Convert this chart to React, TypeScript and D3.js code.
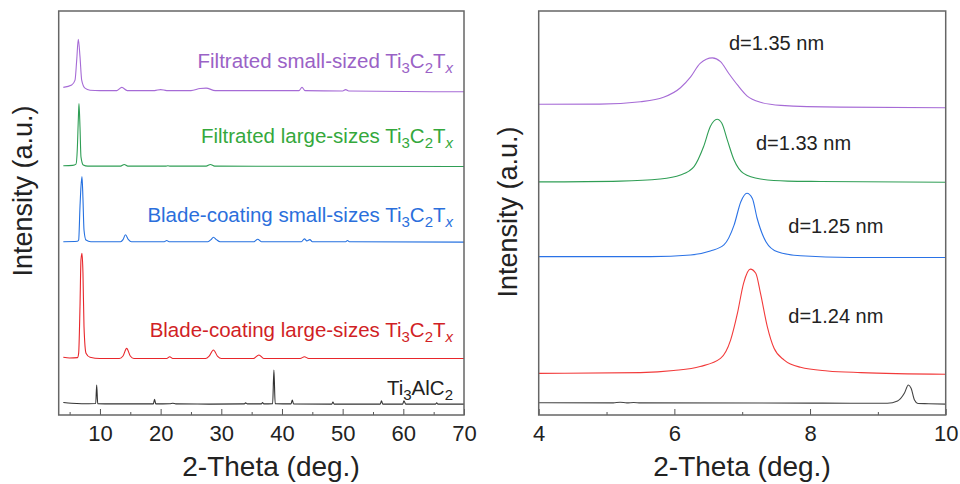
import React, { useEffect, useRef } from 'react';
import * as d3 from 'd3';

type Pt = [number, number];

// left panel: wide scan 2-theta (deg), stacked intensity (a.u.)
const wideTi3AlC2: Pt[] = [
  [3.96, 3.1], [5.3, 2.9], [7, 2.8], [9.3, 2.85], [9.46, 7.4], [9.63, 2.8], [12, 2.75],
  [18.8, 2.75], [19.0, 3.9], [19.2, 2.75], [21.5, 2.8], [22, 2.9], [22.5, 2.75], [28, 2.7],
  [33.8, 2.75], [34.0, 3.0], [34.3, 2.75], [36.6, 2.75], [36.8, 3.1], [37.0, 2.75],
  [38.46, 2.8], [38.67, 11.1], [38.88, 2.8], [41.5, 2.75], [41.7, 3.7], [41.9, 2.75],
  [48.2, 2.7], [48.4, 3.2], [48.6, 2.7], [56.2, 2.7], [56.4, 3.5], [56.6, 2.7],
  [59.9, 2.7], [60.1, 3.5], [60.4, 2.7], [65.3, 2.7], [65.5, 3.0], [65.7, 2.7], [70, 2.7],
];
const wideBladeLarge: Pt[] = [
  [3.96, 14.3], [5, 14.1], [6.3, 14.2], [6.49, 15.3], [6.71, 26.8], [6.87, 38.4], [7.04, 40.0],
  [7.2, 35.1], [7.37, 21.9], [7.7, 15.3], [8.36, 14.3], [10, 14.0], [13.2, 14.0], [13.8, 14.6],
  [14.4, 16.5], [15.0, 14.6], [15.6, 14.0], [21, 14.0], [21.5, 14.4], [22, 14.0], [27.4, 14.0],
  [28.0, 14.6], [28.7, 16.1], [29.4, 14.5], [30, 14.0], [35.3, 14.0], [36.2, 14.85], [37, 14.0],
  [43, 14.0], [43.7, 14.4], [44.4, 14.0], [70, 14.0],
];
const wideBladeSmall: Pt[] = [
  [3.96, 42.9], [6.3, 43.0], [6.49, 43.3], [6.71, 51.6], [6.87, 56.5], [7.04, 59.0], [7.2, 53.5],
  [7.37, 45.8], [7.7, 43.3], [8.5, 42.9], [13.4, 42.9], [13.8, 43.4], [14.2, 44.6], [14.7, 43.4],
  [15.2, 42.9], [20.6, 42.9], [21, 43.2], [21.4, 42.9], [27.8, 42.9], [28.3, 43.4], [28.7, 44.0],
  [29.2, 43.4], [29.8, 42.9], [35.4, 42.9], [36, 43.5], [36.6, 42.9], [43.2, 42.9], [43.7, 43.6],
  [44.1, 43.1], [44.6, 43.4], [45, 42.9], [50.5, 42.9], [50.8, 43.2], [51.1, 42.9], [70, 42.8],
];
const wideFiltLarge: Pt[] = [
  [3.96, 61.7], [5.5, 61.8], [6.05, 62.1], [6.26, 65.6], [6.43, 73.0], [6.54, 77.1], [6.71, 71.3],
  [6.87, 63.9], [7.25, 61.9], [8, 61.6], [13.4, 61.6], [14, 62.0], [14.6, 61.6], [20.8, 61.6],
  [21.2, 61.7], [21.6, 61.6], [27.5, 61.6], [28.2, 62.0], [28.9, 61.6], [70, 61.5],
];
const wideFiltSmall: Pt[] = [
  [3.96, 81.1], [5.34, 81.7], [5.89, 82.9], [6.17, 87.9], [6.43, 93.0], [6.71, 88.7], [6.99, 82.9],
  [7.53, 80.9], [8.36, 80.4], [10, 80.3], [12.8, 80.3], [13.6, 81.1], [14.5, 80.3], [19, 80.3],
  [20, 80.55], [21, 80.3], [25, 80.3], [26.5, 80.8], [27.5, 80.9], [29, 80.3], [42.8, 80.3],
  [43.3, 81.1], [43.8, 80.3], [50, 80.2], [50.5, 80.55], [51, 80.2], [70, 80.0],
];

// right panel: low-angle scan
const zoomTi3AlC2: Pt[] = [
  [4, 3.05], [5.1, 3.0], [5.2, 3.15], [5.3, 3.0], [5.4, 3.1], [5.5, 3.0], [8, 2.95], [8.6, 2.9],
  [9.14, 2.9], [9.29, 3.47], [9.39, 5.37], [9.45, 7.43], [9.49, 6.6], [9.54, 3.7], [9.59, 2.85],
  [9.75, 2.8], [10, 2.7],
];
const zoomBladeLarge: Pt[] = [
  [4, 10.3], [5.5, 10.5], [5.99, 11.0], [6.38, 12.0], [6.68, 14.0], [6.83, 18.6], [6.93, 25.2],
  [7.02, 32.6], [7.12, 36.1], [7.2, 35.1], [7.27, 30.1], [7.37, 21.9], [7.47, 16.5], [7.62, 13.6],
  [7.86, 11.8], [8.26, 10.9], [8.75, 10.5], [10, 10.1],
];
const zoomBladeSmall: Pt[] = [
  [4, 39.2], [5.65, 39.2], [6.24, 39.6], [6.53, 40.6], [6.73, 42.1], [6.88, 47.0], [6.98, 52.8],
  [7.07, 54.9], [7.15, 53.6], [7.22, 48.7], [7.35, 42.9], [7.52, 40.4], [7.86, 39.4], [8.6, 39.0],
  [10, 39.0],
];
const zoomFiltLarge: Pt[] = [
  [4, 57.7], [5.2, 57.9], [5.79, 58.4], [6.09, 59.4], [6.29, 61.5], [6.43, 66.4], [6.53, 71.4],
  [6.63, 73.2], [6.7, 72.2], [6.78, 68.1], [6.88, 63.1], [7.02, 59.8], [7.27, 58.4], [7.67, 57.9],
  [8.16, 57.8], [10, 57.6],
];
const zoomFiltSmall: Pt[] = [
  [4, 76.9], [4.9, 76.95], [5.5, 77.55], [5.84, 78.64], [6.09, 81.0], [6.24, 83.7], [6.38, 87.05],
  [6.56, 88.4], [6.68, 87.45], [6.8, 84.6], [6.93, 81.7], [7.07, 79.0], [7.27, 77.4], [7.57, 76.65],
  [8.45, 76.2], [10, 76.05],
];

const wideMajorTicks = [10, 20, 30, 40, 50, 60, 70];
const wideMinorTicks = [5, 15, 25, 35, 45, 55, 65];
const zoomMajorTicks = [4, 6, 8, 10];
const zoomMinorTicks = [5, 7, 9];
const spacingLabels = ['d=1.35 nm', 'd=1.33 nm', 'd=1.25 nm', 'd=1.24 nm'];

const FONT = "'Liberation Sans', Arial, sans-serif";
const lineColors = ['#333333', '#e8262b', '#2470e0', '#2f9e55', '#a66bd6'];
const zoomLineColors = ['#444444', '#f23b3b', '#2a72e6', '#2f9e55', '#a66bd6'];

const App = () => {
  const ref = useRef<SVGSVGElement>(null);

  useEffect(() => {
    if (!ref.current) return;
    const root = d3.select(ref.current);
    root.selectAll('*').remove();

    const top = 11;
    const bottom = 415;
    const y = d3.scaleLinear().domain([0, 100]).range([bottom, top]);

    const drawPanel = (
      x0: number, x1: number, domain: [number, number],
      curves: Pt[][], colors: string[], major: number[], minor: number[],
      yTitle: [number, number], xTitleX: number, fmt: (d: number) => string,
    ) => {
      const x = d3.scaleLinear().domain(domain).range([x0, x1]);
      const g = root.append('g');

      const line = d3.line<Pt>().x(d => x(d[0])).y(d => y(d[1])).curve(d3.curveMonotoneX);
      curves.forEach((c, i) => {
        g.append('path').attr('d', line(c)).attr('fill', 'none')
          .attr('stroke', colors[i]).attr('stroke-width', 1.1);
      });

      const ax = g.append('g').attr('transform', `translate(0,${bottom})`)
        .call(d3.axisBottom(x).tickValues(major).tickSize(-6).tickPadding(10).tickFormat(d => fmt(d as number)));
      ax.select('.domain').remove();
      ax.selectAll('line').attr('stroke', '#555');
      ax.selectAll('text').attr('font-size', 22).attr('font-family', FONT).attr('fill', '#222');

      const mx = g.append('g').attr('transform', `translate(0,${bottom})`)
        .call(d3.axisBottom(x).tickValues(minor).tickSize(-3).tickFormat(() => ''));
      mx.select('.domain').remove();
      mx.selectAll('line').attr('stroke', '#555');

      g.append('rect').attr('x', x0).attr('y', top).attr('width', x1 - x0).attr('height', bottom - top)
        .attr('fill', 'none').attr('stroke', '#666').attr('stroke-width', 1.5);

      g.append('text').attr('x', xTitleX).attr('y', 476).attr('text-anchor', 'middle')
        .attr('font-size', 28).attr('font-family', FONT).attr('fill', '#222').text('2-Theta (deg.)');

      g.append('text').attr('transform', `translate(${yTitle[0]},${yTitle[1]}) rotate(-90)`)
        .attr('text-anchor', 'middle').attr('font-size', 27).attr('font-family', FONT)
        .attr('fill', '#222').text('Intensity (a.u.)');
      return { g, x };
    };

    const left = drawPanel(58.7, 464, [3.2, 70],
      [wideTi3AlC2, wideBladeLarge, wideBladeSmall, wideFiltLarge, wideFiltSmall],
      lineColors, wideMajorTicks, wideMinorTicks, [32, 191], 271, d => String(d));

    const right = drawPanel(538.7, 945.7, [4, 10],
      [zoomTi3AlC2, zoomBladeLarge, zoomBladeSmall, zoomFiltLarge, zoomFiltSmall],
      zoomLineColors, zoomMajorTicks, zoomMinorTicks, [517, 212], 742, d => String(d));

    // sample labels in the left panel
    const sub = 15;
    const mxene = (t: d3.Selection<SVGTextElement, unknown, null, undefined>, prefix: string) => {
      t.append('tspan').text(prefix + 'Ti');
      t.append('tspan').attr('dy', 5).attr('font-size', sub).text('3');
      t.append('tspan').attr('dy', -5).text('C');
      t.append('tspan').attr('dy', 5).attr('font-size', sub).text('2');
      t.append('tspan').attr('dy', -5).text('T');
      t.append('tspan').attr('dy', 5).attr('font-size', sub).attr('font-style', 'italic').text('x');
    };
    const sampleLabels: [string, number, string][] = [
      ['Filtrated small-sized ', 68, '#9a62c6'],
      ['Filtrated large-sizes ', 143, '#34a83c'],
      ['Blade-coating small-sizes ', 221.5, '#2b6fdc'],
      ['Blade-coating large-sizes ', 336.5, '#d11f26'],
    ];
    sampleLabels.forEach(([txt, yy, col]) => {
      const t = left.g.append('text').attr('x', 453).attr('y', yy).attr('text-anchor', 'end')
        .attr('font-size', 20.5).attr('font-family', FONT).attr('fill', col);
      mxene(t, txt);
    });
    const max = left.g.append('text').attr('x', 453).attr('y', 395).attr('text-anchor', 'end')
      .attr('font-size', 20.5).attr('font-family', FONT).attr('fill', '#222');
    max.append('tspan').text('Ti');
    max.append('tspan').attr('dy', 5).attr('font-size', sub).text('3');
    max.append('tspan').attr('dy', -5).text('AlC');
    max.append('tspan').attr('dy', 5).attr('font-size', sub).text('2');

    // interlayer spacing labels in the right panel
    const spacingPos: [number, number][] = [[729, 50], [756, 150], [788.3, 233], [788.3, 322.5]];
    spacingLabels.forEach((s, i) => {
      right.g.append('text').attr('x', spacingPos[i][0]).attr('y', spacingPos[i][1])
        .attr('font-size', 20).attr('font-family', FONT).attr('fill', '#222').text(s);
    });
  }, []);

  return (
    <svg ref={ref} width={960} height={484}
      style={{ position: 'absolute', left: 0, top: 0, background: '#fff' }} />
  );
};

export default App;
